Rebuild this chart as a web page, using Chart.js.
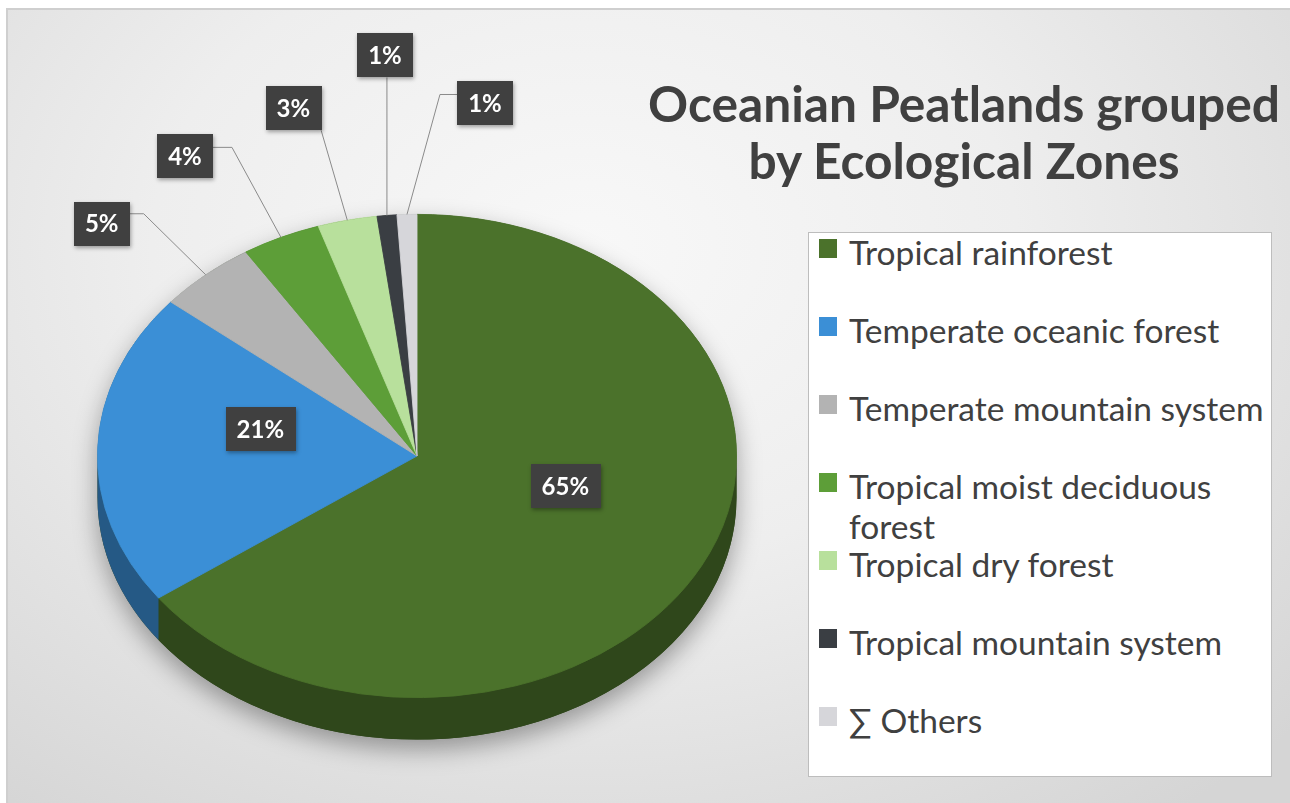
<!DOCTYPE html>
<html>
<head>
<meta charset="utf-8">
<script src="https://cdn.jsdelivr.net/npm/chart.js@4.4.1/dist/chart.umd.min.js"></script>
<style>
  html, body { margin: 0; padding: 0; background: #fff; width: 1290px; height: 803px; overflow: hidden; }
  #frame {
    position: absolute; left: 6px; top: 8px; width: 1284px; height: 795px;
    box-sizing: border-box; border-left: 2px solid #cfcfcf; border-top: 2px solid #cfcfcf;
    background: radial-gradient(ellipse 75% 90% at 45% 30%, #f8f8f8 0%, #eeeeee 45%, #d5d5d5 100%);
  }
  #pie { position: absolute; left: 0; top: 0; }
  #title {
    position: absolute; left: 634px; top: 75px; width: 660px;
    text-align: center; font-family: Lato, "Open Sans", sans-serif; font-weight: bold;
    line-height: 57px; color: #404040; white-space: nowrap;
  }
  #legend {
    position: absolute; left: 808px; top: 232px; width: 464px; height: 545px;
    box-sizing: border-box; border: 1px solid #bdbdbd; background: #fff;
    font-family: Lato, "Open Sans", sans-serif; color: #404040;
  }
  .item { position: relative; height: 78px; }
  .item .mark { position: absolute; left: 10px; top: 6px; width: 18px; height: 19px; }
  .item .txt { position: absolute; left: 40px; top: -1px; width: 421px; line-height: 40px; }
</style>
</head>
<body>
<div id="frame"></div>
<canvas id="pie" width="1290" height="803"></canvas>
<div id="title">Oceanian Peatlands grouped<br>by Ecological Zones</div>
<div id="legend"></div>
<script>
// ---- data ----
const zones = [
  'Tropical rainforest',
  'Temperate oceanic forest',
  'Temperate mountain system',
  'Tropical moist deciduous forest',
  'Tropical dry forest',
  'Tropical mountain system',
  '∑ Others'
];
const shares = [65, 21, 5, 4, 3, 1, 1];
const zoneColors = ['#4b722b', '#3b8fd6', '#b3b3b3', '#5d9e38', '#b8e09c', '#3a3e43', '#d6d6da'];

// ---- look of the fake 3D pie ----
const TILT = 242 / 320;   // vertical squash of the top face
const DEPTH = 42;         // thickness of the pie wall
// where the % boxes sit, relative to each slice (inside: from half radius, outside: from rim)
const labelPlacement = [
  { inside: true, dx: 6, dy: -25 },
  { inside: true, dx: 3, dy: -23 },
  { dx: -104, dy: -51, ex: -62, ey: -61 },
  { dx: -96, dy: -81, ex: -49, ey: -90 },
  { dx: -54, dy: -112 },
  { dx: -2, dy: -160 },
  { dx: 78, dy: -111, ex: 33, ey: -120 }
];

function shade(hex, f) {
  const n = parseInt(hex.slice(1), 16);
  const r = Math.round(((n >> 16) & 255) * f);
  const g = Math.round(((n >> 8) & 255) * f);
  const b = Math.round((n & 255) * f);
  return `rgb(${r},${g},${b})`;
}

function arcProps(arc) {
  return arc.getProps(['x', 'y', 'startAngle', 'endAngle', 'outerRadius'], true);
}

const pie3d = {
  id: 'pie3d',
  beforeDatasetsDraw(chart) {
    const ctx = chart.ctx;
    const arcs = chart.getDatasetMeta(0).data;
    const { x: cx, y: cy, outerRadius: r } = arcProps(arcs[0]);
    const ry = r * TILT;

    // soft shadow under the whole pie
    ctx.save();
    ctx.shadowColor = 'rgba(0,0,0,0.35)';
    ctx.shadowBlur = 24;
    ctx.shadowOffsetY = 10;
    ctx.fillStyle = shade(zoneColors[0], 0.6);
    ctx.beginPath();
    ctx.ellipse(cx, cy, r, ry, 0, Math.PI, 2 * Math.PI);
    ctx.lineTo(cx + r, cy + DEPTH);
    ctx.ellipse(cx, cy + DEPTH, r, ry, 0, 0, Math.PI);
    ctx.closePath();
    ctx.fill();
    ctx.restore();

    // front walls
    arcs.forEach((arc, i) => {
      const p = arcProps(arc);
      for (let k = -1; k <= 1; k++) {
        const lo = Math.max(p.startAngle, 2 * Math.PI * k);
        const hi = Math.min(p.endAngle, Math.PI + 2 * Math.PI * k);
        if (hi <= lo) continue;
        ctx.fillStyle = shade(zoneColors[i], 0.62);
        ctx.beginPath();
        ctx.ellipse(cx, cy, r, ry, 0, lo, hi);
        ctx.ellipse(cx, cy + DEPTH, r, ry, 0, hi, lo, true);
        ctx.closePath();
        ctx.fill();
      }
    });

    // squash the top face
    ctx.save();
    ctx.translate(cx, cy);
    ctx.scale(1, TILT);
    ctx.translate(-cx, -cy);
  },
  afterDatasetsDraw(chart) {
    chart.ctx.restore();
    drawLabels(chart);
  }
};

function drawLabels(chart) {
  const ctx = chart.ctx;
  const arcs = chart.getDatasetMeta(0).data;
  const total = shares.reduce((a, b) => a + b, 0);
  ctx.save();
  ctx.font = 'bold 24px Lato, "Open Sans", sans-serif';
  ctx.textAlign = 'center';
  ctx.textBaseline = 'middle';
  arcs.forEach((arc, i) => {
    const p = arcProps(arc);
    const ry = p.outerRadius * TILT;
    const mid = (p.startAngle + p.endAngle) / 2;
    const text = Math.round(shares[i] / total * 100) + '%';
    const spec = labelPlacement[i];
    const w = ctx.measureText(text).width + 22, h = 44;
    let bx, by;
    if (spec.inside) {
      bx = p.x + 0.5 * p.outerRadius * Math.cos(mid) + spec.dx;
      by = p.y + 0.5 * ry * Math.sin(mid) + spec.dy;
    } else {
      const ax = p.x + p.outerRadius * Math.cos(mid);
      const ay = p.y + ry * Math.sin(mid);
      bx = ax + spec.dx;
      by = ay + spec.dy;
      ctx.strokeStyle = '#8a8a8a';
      ctx.lineWidth = 1;
      ctx.beginPath();
      ctx.moveTo(ax, ay);
      if (spec.ex !== undefined) {
        const ex = ax + spec.ex, ey = ay + spec.ey;
        ctx.lineTo(ex, ey);
        ctx.lineTo(ex < bx ? bx - w / 2 : bx + w / 2, ey);
      } else {
        const tx = Math.min(Math.max(ax, bx - w / 2), bx + w / 2);
        const ty = Math.min(Math.max(ay, by - h / 2), by + h / 2);
        ctx.lineTo(tx, ty);
      }
      ctx.stroke();
    }
    ctx.save();
    ctx.shadowColor = 'rgba(0,0,0,0.35)';
    ctx.shadowBlur = 4;
    ctx.shadowOffsetX = 1;
    ctx.shadowOffsetY = 2;
    ctx.fillStyle = '#404040';
    ctx.fillRect(Math.round(bx - w / 2), Math.round(by - h / 2), Math.round(w), h);
    ctx.restore();
    ctx.fillStyle = '#ffffff';
    ctx.fillText(text, bx, by + 1);
  });
  ctx.restore();
}

new Chart(document.getElementById('pie'), {
  type: 'pie',
  data: {
    labels: zones,
    datasets: [{
      data: shares,
      backgroundColor: zoneColors,
      borderColor: zoneColors,
      borderWidth: 1
    }]
  },
  options: {
    responsive: false,
    animation: false,
    events: [],
    layout: { padding: { left: 97, right: 553, top: 136, bottom: 27 } },
    plugins: { legend: { display: false }, tooltip: { enabled: false } }
  },
  plugins: [pie3d]
});

// ---- title + legend ----
function fitFont(el, sample, targetWidth, weight) {
  const c = document.createElement('canvas').getContext('2d');
  c.font = `${weight} 100px Lato, "Open Sans", sans-serif`;
  const w = c.measureText(sample).width;
  el.style.fontSize = (100 * targetWidth / w).toFixed(1) + 'px';
}

const legend = document.getElementById('legend');
zones.forEach((z, i) => {
  const item = document.createElement('div');
  item.className = 'item';
  item.innerHTML = `<div class="mark" style="background:${zoneColors[i]}"></div><div class="txt">${z}</div>`;
  legend.appendChild(item);
});
fitFont(legend, 'Temperate mountain system', 414, 'normal');
fitFont(document.getElementById('title'), 'Oceanian Peatlands grouped', 632, 'bold');
</script>
</body>
</html>
